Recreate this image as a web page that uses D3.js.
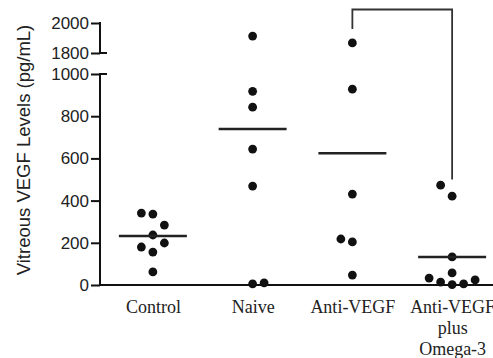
<!DOCTYPE html>
<html>
<head>
<meta charset="utf-8">
<script src="https://cdn.jsdelivr.net/npm/d3@7"></script>
<style>
  body { margin: 0; background: #fff; }
  .tick text.ylab { font-family: 'Liberation Sans', Arial, sans-serif; font-size: 17px; fill: #222; }
  .xlab { font-family: 'Liberation Serif', 'Times New Roman', serif; font-size: 18px; fill: #222; }
  .title { font-family: 'Liberation Sans', Arial, sans-serif; font-size: 18.5px; fill: #222; }
</style>
</head>
<body>
<svg id="chart" width="493" height="358"></svg>
<script>
// groups and labels
const groups = ['Control', 'Naive', 'Anti-VEGF', 'Anti-VEGF plus Omega-3'];
const groupLabels = [['Control'], ['Naive'], ['Anti-VEGF'], ['Anti-VEGF', 'plus', 'Omega-3']];

// individual values (pg/mL) and their column slot inside the group
const controlVals = [341, 336, 284, 237, 199, 180, 156, 62];
const controlSlots = [-1, 0, 1, 0, 1, -1, 0, 0];
const naiveVals = [1913, 918, 843, 644, 469, 5, 10];
const naiveSlots = [0, 0, 0, 0, 0, 0, 1];
const antiVals = [1867, 928, 431, 218, 204, 47];
const antiSlots = [0, 0, 0, -1, 0, 0];
const omegaVals = [473, 421, 133, 57, 33, 14, 2, 5, 24];
const omegaSlots = [-1, 0, 0, 0, -2, -1, 0, 1, 2];

// group means (horizontal bars)
const means = [232, 739, 625, 133];

// tick labels
const lowerTicks = [0, 200, 400, 600, 800, 1000];
const upperTicks = [1800, 2000];

// significance bracket between groups 2 and 3
const bracketGroups = [2, 3];
const bracketTop = 2090;
const bracketEnds = [1960, 500];

const values = [controlVals, naiveVals, antiVals, omegaVals];
const slots = [controlSlots, naiveSlots, antiSlots, omegaSlots];

const svg = d3.select('#chart');
const axisX = 100;
const slotW = 11.5;

const x = d3.scalePoint().domain(groups).range([103, 502]).padding(0.5);
const yLower = d3.scaleLinear().domain([0, 1000]).range([285, 74]);
const yUpper = d3.scaleLinear().domain([1800, 2000]).range([53, 23]);
const y = v => v > 1000 ? yUpper(v) : yLower(v);

// y axes (two segments, broken)
function yAxis(scale, ticks) {
  const g = svg.append('g')
    .attr('transform', 'translate(' + axisX + ',0)')
    .call(d3.axisLeft(scale).tickValues(ticks).tickSize(9).tickPadding(2).tickFormat(d3.format('d')));
  g.select('.domain').remove();
  g.selectAll('.tick line').attr('stroke', '#111').attr('stroke-width', 2);
  g.selectAll('.tick text').attr('class', 'ylab');
  return g;
}
yAxis(yLower, lowerTicks);
yAxis(yUpper, upperTicks);

const axisG = svg.append('g').attr('stroke', '#111').attr('stroke-width', 2).attr('fill', 'none');
axisG.append('path').attr('d', 'M' + axisX + ',' + yLower(0) + 'V' + (yLower(1000) - 1) + 'M' + (axisX - 1) + ',' + yLower(1000) + 'H' + (axisX + 7));
axisG.append('path').attr('d', 'M' + axisX + ',' + (yUpper(2000) - 1) + 'V' + yUpper(1800) + 'M' + (axisX - 1) + ',' + yUpper(1800) + 'H' + (axisX + 7));
axisG.append('path').attr('d', 'M' + (axisX - 1) + ',' + yLower(0) + 'H493');

// x labels
const xg = svg.append('g')
  .attr('transform', 'translate(0,' + yLower(0) + ')')
  .call(d3.axisBottom(x).tickSize(0).tickFormat(''));
xg.select('.domain').remove();
xg.selectAll('.tick').each(function (d, i) {
  const t = d3.select(this).append('text')
    .attr('class', 'xlab')
    .attr('text-anchor', 'middle')
    .attr('y', 28);
  groupLabels[i].forEach((s, j) => {
    t.append('tspan').attr('x', 0).attr('dy', j === 0 ? 0 : 21).text(s);
  });
});

// y title
svg.append('text')
  .attr('class', 'title')
  .attr('text-anchor', 'middle')
  .attr('transform', 'translate(30,150) rotate(-90)')
  .text('Vitreous VEGF Levels (pg/mL)');

// points
groups.forEach((gname, gi) => {
  svg.append('g').selectAll('circle')
    .data(values[gi])
    .enter().append('circle')
    .attr('cx', (d, i) => x(gname) + slots[gi][i] * slotW)
    .attr('cy', d => y(d))
    .attr('r', 4.4)
    .attr('fill', '#111');
});

// mean lines
svg.append('g').selectAll('line')
  .data(means)
  .enter().append('line')
  .attr('x1', (d, i) => x(groups[i]) - 34)
  .attr('x2', (d, i) => x(groups[i]) + 34)
  .attr('y1', d => y(d))
  .attr('y2', d => y(d))
  .attr('stroke', '#222')
  .attr('stroke-width', 2.5);

// bracket
const bx1 = x(groups[bracketGroups[0]]), bx2 = x(groups[bracketGroups[1]]);
svg.append('path')
  .attr('d', 'M' + bx1 + ',' + y(bracketEnds[0]) + 'V' + y(bracketTop) + 'H' + bx2 + 'V' + y(bracketEnds[1]))
  .attr('fill', 'none')
  .attr('stroke', '#333')
  .attr('stroke-width', 1.8);
</script>
</body>
</html>
